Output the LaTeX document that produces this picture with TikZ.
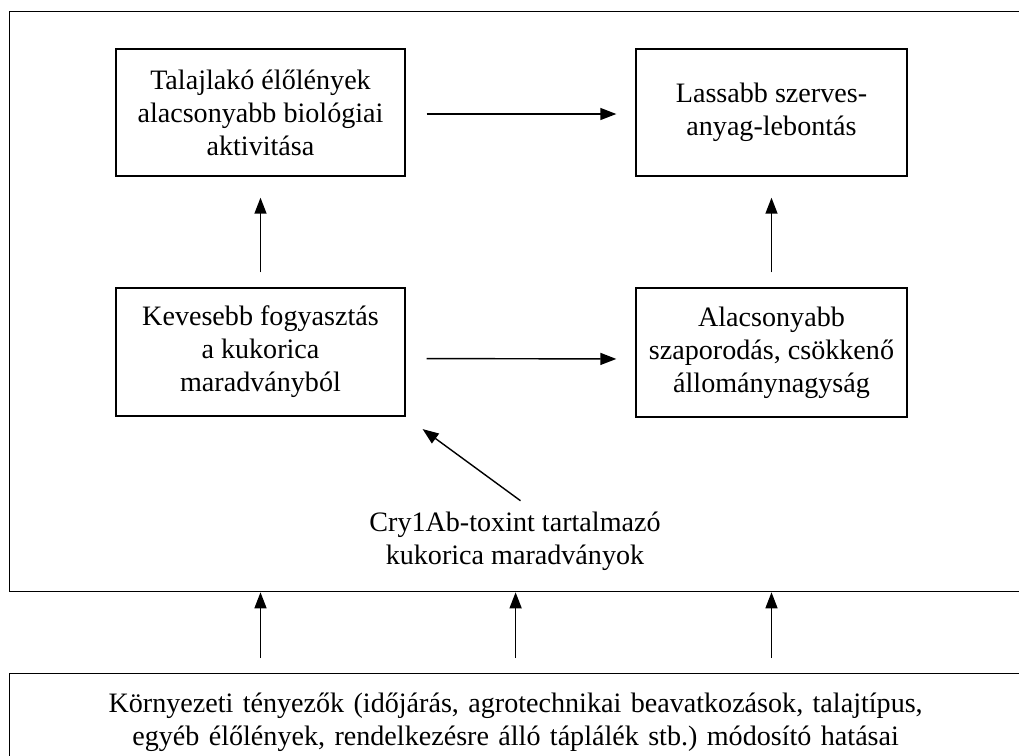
\documentclass[tikz,border=0pt]{standalone}
\usepackage{fontspec}
\setmainfont{Liberation Serif}
\usetikzlibrary{arrows.meta}

\tikzset{
    doboz/.style={draw, line width=0.8pt, align=center, inner sep=0pt,
        font=\fontsize{16}{18.8}\selectfont},
    szoveg/.style={align=center, inner sep=0pt,
        font=\fontsize{16}{18.8}\selectfont},
    nyil/.style={line width=0.8pt, -{Triangle[length=0.32cm,width=0.24cm]}}
}

\begin{document}
\begin{tikzpicture}[x=0.02cm, y=-0.02cm]
    \useasboundingbox (0,0) rectangle (1019,755);
    \clip (0,0) rectangle (1019,755);

    % Outer frame and environment box
    \node[draw, line width=0.8pt, minimum width=20.26cm, minimum height=11.6cm,
        anchor=north west, inner sep=0pt] (keret) at (8.5,11) {};
    \node[doboz, anchor=north west, text width=20.26cm, inner ysep=0.39cm]
        (kornyezet) at (8.5,673)
        {Környezeti tényezők (időjárás, agrotechnikai beavatkozások, talajtípus,\\
         egyéb élőlények, rendelkezésre álló táplálék stb.)\ módosító hatásai};

    % Boxes
    \node[doboz, minimum width=5.78cm, minimum height=2.54cm] (talaj) at (260.5,112.5)
        {Talajlakó élőlények\\ alacsonyabb biológiai\\ aktivitása};
    \node[doboz, minimum width=5.42cm, minimum height=2.54cm] (lebontas) at (771.5,112.5)
        {Lassabb szerves-\\ anyag-lebontás};
    \node[doboz, minimum width=5.78cm, minimum height=2.56cm] (fogyasztas) at (260.5,352)
        {Kevesebb fogyasztás\\ a kukorica\\ maradványból};
    \node[doboz, minimum width=5.42cm, minimum height=2.58cm] (szaporodas) at (771.5,352.5)
        {Alacsonyabb\\ szaporodás, csökkenő\\ állománynagyság};

    % Toxin source
    \node[szoveg] (toxin) at (515,541)
        {Cry1Ab-toxint tartalmazó\\ kukorica maradványok};

    % Arrows between boxes
    \draw[nyil, shorten <=0.42cm, shorten >=0.38cm]
        ([yshift=-0.03cm]talaj.east) -- ([yshift=-0.03cm]lebontas.west);
    \draw[nyil, shorten <=0.42cm, shorten >=0.38cm]
        ([yshift=-0.13cm]fogyasztas.east) -- ([yshift=-0.13cm]szaporodas.west);
    \draw[nyil, shorten <=0.3cm, shorten >=0.42cm] (fogyasztas.north) -- (talaj.south);
    \draw[nyil, shorten <=0.3cm, shorten >=0.42cm] (szaporodas.north) -- (lebontas.south);
    \draw[nyil, shorten <=0.36cm, shorten >=0.42cm]
        ([xshift=0.4cm]toxin.north) -- (fogyasztas.south east);

    % Arrows from the environment
    \draw[nyil, shorten <=0.3cm] (kornyezet.north -| fogyasztas.south) -- (keret.south -| fogyasztas.south);
    \draw[nyil, shorten <=0.3cm] (kornyezet.north) -- (keret.south);
    \draw[nyil, shorten <=0.3cm] (kornyezet.north -| szaporodas.south) -- (keret.south -| szaporodas.south);
\end{tikzpicture}
\end{document}
